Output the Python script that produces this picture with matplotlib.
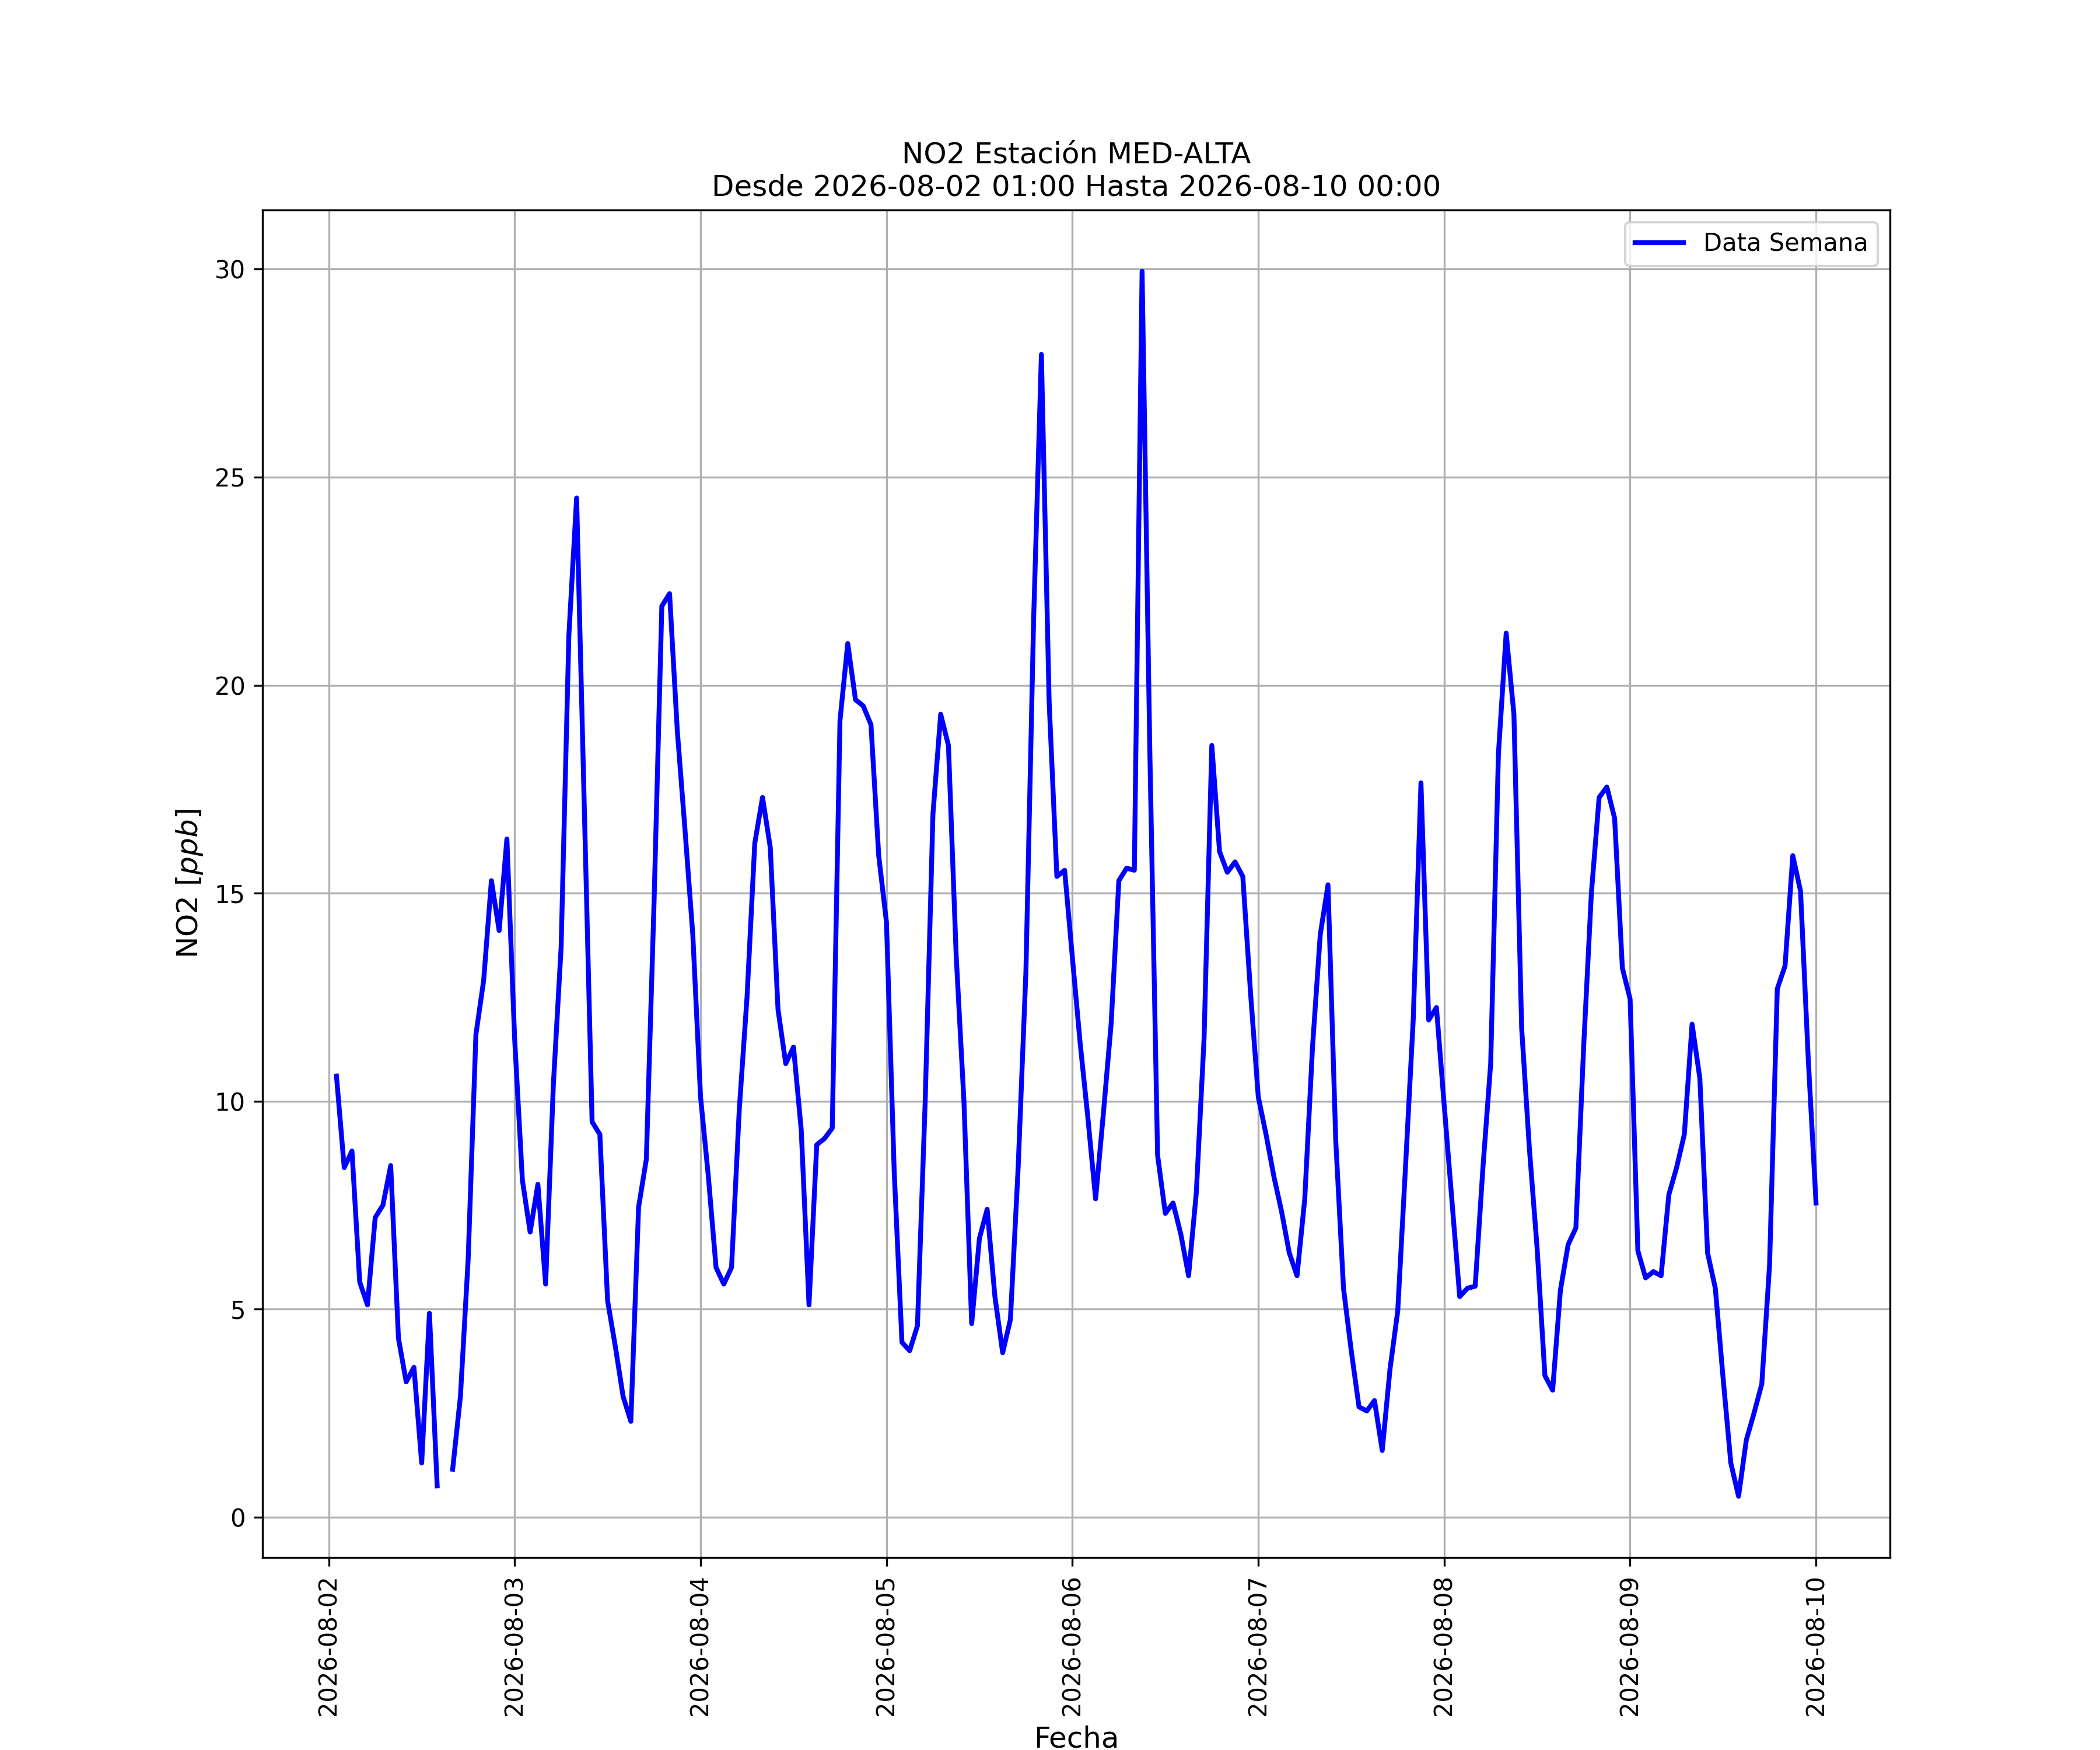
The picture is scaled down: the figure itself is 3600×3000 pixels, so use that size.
import numpy as np
import pandas as pd
import matplotlib
matplotlib.use("Agg")
import matplotlib.pyplot as plt
import matplotlib.dates as mdates

estacion = "MED-ALTA"
inicio = "2026-08-02 01:00"
fin = "2026-08-10 00:00"

# NO2 hourly values (ppb), one list per day; 08-02 starts at 01:00
dia_02 = [10.6, 8.4, 8.8, 5.65, 5.1, 7.2, 7.5, 8.45, 4.3, 3.25, 3.6, 1.3,
          4.9, 0.75, np.nan, 1.15, 2.9, 6.2, 11.6, 12.9, 15.3, 14.1, 16.3]
dia_03 = [11.5, 8.1, 6.85, 8.0, 5.6, 10.4, 13.7, 21.2, 24.5, 17.0, 9.5, 9.2,
          5.2, 4.1, 2.9, 2.3, 7.45, 8.6, 14.8, 21.9, 22.2, 18.9, 16.5, 14.0]
dia_04 = [10.1, 8.2, 6.0, 5.6, 6.0, 9.8, 12.5, 16.2, 17.3, 16.1, 12.2, 10.9,
          11.3, 9.3, 5.1, 8.95, 9.1, 9.35, 19.15, 21.0, 19.65, 19.5, 19.05, 15.9]
dia_05 = [14.3, 8.3, 4.2, 4.0, 4.6, 10.0, 16.9, 19.3, 18.55, 13.5, 10.0, 4.65,
          6.7, 7.4, 5.3, 3.95, 4.75, 8.4, 13.1, 21.6, 27.95, 19.6, 15.4, 15.55]
dia_06 = [13.45, 11.4, 9.6, 7.65, 9.7, 11.85, 15.3, 15.6, 15.55, 29.95, 18.4, 8.7,
          7.3, 7.55, 6.8, 5.8, 7.8, 11.5, 18.55, 16.0, 15.5, 15.75, 15.4, 12.6]
dia_07 = [10.1, 9.2, 8.2, 7.35, 6.35, 5.8, 7.65, 11.3, 14.0, 15.2, 9.05, 5.5,
          4.0, 2.65, 2.55, 2.8, 1.6, 3.55, 4.95, 8.4, 11.95, 17.65, 11.95, 12.25]
dia_08 = [9.9, 7.6, 5.3, 5.5, 5.55, 8.4, 10.9, 18.35, 21.25, 19.3, 11.75, 8.85,
          6.45, 3.4, 3.05, 5.45, 6.55, 6.95, 11.3, 15.0, 17.3, 17.55, 16.8, 13.2]
dia_09 = [12.45, 6.4, 5.75, 5.9, 5.8, 7.75, 8.4, 9.2, 11.85, 10.55, 6.35, 5.5,
          3.35, 1.3, 0.5, 1.85, 2.5, 3.2, 6.05, 12.7, 13.25, 15.9, 15.05, 11.0]
dia_10 = [7.55]

valores = dia_02 + dia_03 + dia_04 + dia_05 + dia_06 + dia_07 + dia_08 + dia_09 + dia_10
fechas = pd.date_range(inicio, fin, freq="h")

fig = plt.figure(figsize=(12, 10), dpi=300)
ax = fig.add_subplot(111)
ax.plot(fechas, valores, color="blue", linewidth=2, label="Data Semana")

ax.set_title("NO2 Estación " + estacion + "\nDesde " + inicio + " Hasta " + fin)
ax.set_xlabel("Fecha", fontsize=12)
ax.set_ylabel("NO2 [$ppb$]", fontsize=12)
ax.xaxis.set_major_locator(mdates.DayLocator())
ax.xaxis.set_major_formatter(mdates.DateFormatter("%Y-%m-%d"))
plt.setp(ax.get_xticklabels(), rotation=90)
ax.grid(True)
ax.legend(loc="upper right")

fig.savefig("out.png", dpi=300)
